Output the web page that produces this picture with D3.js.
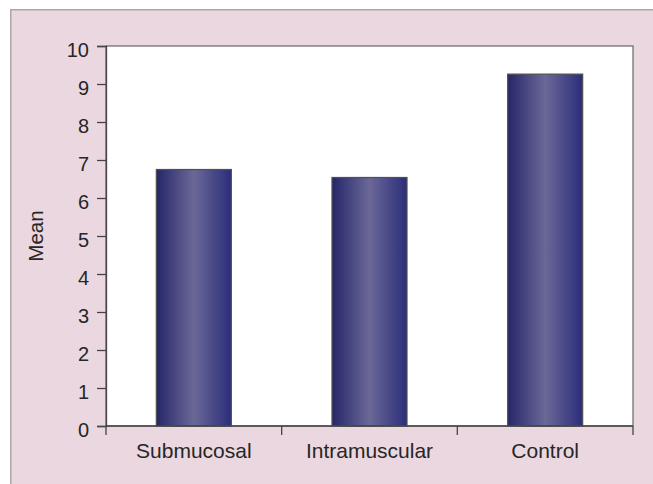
<!DOCTYPE html>
<html lang="en">
<head>
    <meta charset="UTF-8">
    <title>Mean by group</title>
    <script src="https://d3js.org/d3.v7.min.js"></script>
    <style>
        html, body {
            margin: 0;
            padding: 0;
            overflow: hidden;
            min-height: 100%;
            /* keep the pink frame going if the window is taller than the svg */
            background: linear-gradient(to right, #ffffff 10px, #a9a9a9 10px, #a9a9a9 11.5px, #ebd7df 11.5px);
        }
        svg {
            display: block;
        }
        svg text {
            font-family: "Liberation Sans", Arial, sans-serif;
            fill: #262626;
        }
    </style>
</head>
<body>
    <svg id="chart" width="653" height="484"></svg>

    <script>
        // values
        const groups = ["Submucosal", "Intramuscular", "Control"];
        const means = [6.75, 6.54, 9.26];
        const yTicks = [0, 1, 2, 3, 4, 5, 6, 7, 8, 9, 10];

        const svg = d3.select("#chart");

        // white strip above/left, pink frame cut off at right and bottom
        svg.append("rect")
            .attr("width", 653).attr("height", 484)
            .attr("fill", "#ffffff");
        svg.append("rect")
            .attr("x", 10).attr("y", 9)
            .attr("width", 643).attr("height", 475)
            .attr("fill", "#ebd7df");
        svg.append("path")
            .attr("d", "M10.75,484V9.75H653")
            .attr("fill", "none")
            .attr("stroke", "#a9a9a9")
            .attr("stroke-width", 1.5);

        const margin = { top: 46, right: 20, bottom: 58, left: 106 };
        const width = 633 - margin.left;
        const height = 426 - margin.top;

        const g = svg.append("g")
            .attr("transform", `translate(${margin.left},${margin.top})`);

        const x = d3.scaleBand().domain(groups).range([0, width])
            .paddingInner(0.573).paddingOuter(0.2865);
        const y = d3.scaleLinear().domain([0, 10]).range([height, 0]);

        // white plot area
        g.append("rect")
            .attr("width", width).attr("height", height)
            .attr("fill", "#ffffff")
            .attr("stroke", "#666")
            .attr("stroke-width", 1.2);

        // bar gradient
        const grad = svg.append("defs").append("linearGradient")
            .attr("id", "barGrad")
            .attr("x1", "0%").attr("x2", "100%").attr("y1", "0%").attr("y2", "0%");
        grad.append("stop").attr("offset", "0%").attr("stop-color", "#25266a");
        grad.append("stop").attr("offset", "50%").attr("stop-color", "#6b6897");
        grad.append("stop").attr("offset", "100%").attr("stop-color", "#2b2d7a");

        g.selectAll(".bar")
            .data(groups)
            .join("rect")
            .attr("class", "bar")
            .attr("x", d => x(d))
            .attr("y", (d, i) => y(means[i]))
            .attr("width", x.bandwidth())
            .attr("height", (d, i) => height - y(means[i]))
            .attr("fill", "url(#barGrad)")
            .attr("stroke", "#505050")
            .attr("stroke-width", 1.2);

        // y axis
        const yAxis = g.append("g")
            .call(d3.axisLeft(y).tickValues(yTicks).tickSize(9).tickPadding(8));
        yAxis.attr("font-family", null).attr("font-size", 20);
        yAxis.selectAll("line").attr("stroke", "#444").attr("stroke-width", 1.3);
        yAxis.select(".domain").attr("stroke", "#444").attr("stroke-width", 1.3);
        yAxis.selectAll("text")
            .attr("dy", "0.5em")
            .style("fill", "#262626");

        // x axis: ticks on the band boundaries
        const xAxis = g.append("g").attr("transform", `translate(0,${height})`);
        xAxis.append("line")
            .attr("x1", 0).attr("x2", width)
            .attr("stroke", "#444").attr("stroke-width", 1.3);
        const bounds = [0].concat(groups.map(d => x(d) + x.bandwidth() + x.step() * x.paddingInner() / 2));
        xAxis.selectAll(".xtick")
            .data(bounds)
            .join("line")
            .attr("class", "xtick")
            .attr("x1", d => d).attr("x2", d => d)
            .attr("y1", 0).attr("y2", 9)
            .attr("stroke", "#444").attr("stroke-width", 1.3);
        xAxis.selectAll(".xlabel")
            .data(groups)
            .join("text")
            .attr("class", "xlabel")
            .attr("x", d => x(d) + x.bandwidth() / 2)
            .attr("y", 32)
            .attr("text-anchor", "middle")
            .attr("font-size", 21)
            .text(d => d);

        // y axis title
        svg.append("text")
            .attr("transform", `translate(43,${margin.top + height / 2}) rotate(-90)`)
            .attr("text-anchor", "middle")
            .attr("font-size", 20.5)
            .text("Mean");
    </script>
</body>
</html>
